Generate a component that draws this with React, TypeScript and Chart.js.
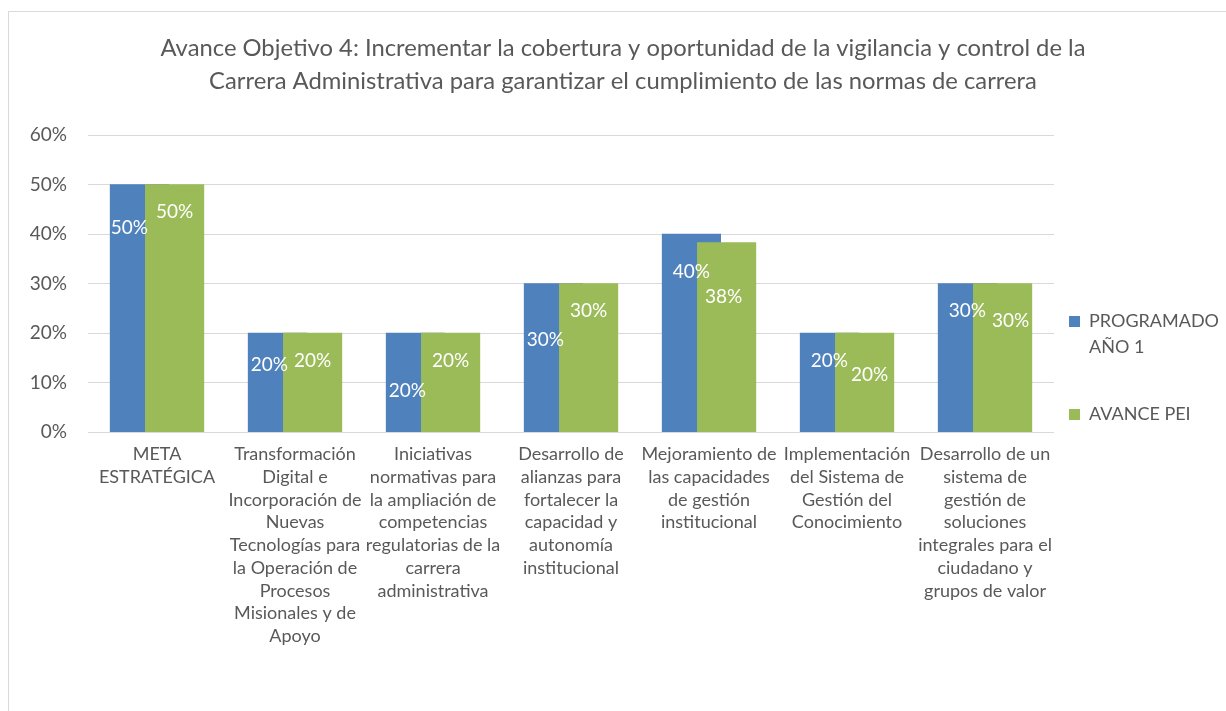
import React, { useEffect, useRef } from 'react';
import { Chart, registerables } from 'chart.js';

Chart.register(...registerables);

const titleLines = [
  'Avance Objetivo 4: Incrementar la cobertura y oportunidad de la vigilancia y control de la',
  'Carrera Administrativa para garantizar el cumplimiento de las normas de carrera',
];

const categories: string[][] = [
  ['META', 'ESTRATÉGICA'],
  ['Transformación', 'Digital e', 'Incorporación de', 'Nuevas', 'Tecnologías para', 'la Operación de', 'Procesos', 'Misionales y de', 'Apoyo'],
  ['Iniciativas', 'normativas para', 'la ampliación de', 'competencias', 'regulatorias de la', 'carrera', 'administrativa'],
  ['Desarrollo de', 'alianzas para', 'fortalecer la', 'capacidad y', 'autonomía', 'institucional'],
  ['Mejoramiento de', 'las capacidades', 'de gestión', 'institucional'],
  ['Implementación', 'del Sistema de', 'Gestión del', 'Conocimiento'],
  ['Desarrollo de un', 'sistema de', 'gestión de', 'soluciones', 'integrales para el', 'ciudadano y', 'grupos de valor'],
];

const seriesNames = ['PROGRAMADO AÑO 1', 'AVANCE PEI'];
const legendLines = [['PROGRAMADO', 'AÑO 1', ''], ['AVANCE PEI']];

const programado = [50, 20, 20, 30, 40, 20, 30];
const avance = [50, 20, 20, 30, 38.3, 20, 30];

const yTicks = [0, 10, 20, 30, 40, 50, 60];

// where each data label sits in the original (value units) – layout only
const programadoLabelAt = [41.3, 13.6, 8.3, 18.6, 32.4, 14.4, 24.5];
const avanceLabelAt = [44.5, 14.5, 14.5, 24.5, 27.4, 11.5, 22.5];
const programadoLabelShift = [-10, -8, -8, -8, 0, 0, 0];
const avanceLabelShift = [0, 0, 0, 0, -3, 5, 8];

const FONT = 'Lato, "Open Sans", "Noto Sans", sans-serif';
const GRAY = '#595959';
const BLUE = '#4F81BD';
const GREEN = '#9BBB59';
const BAR_OFFSET = 0.1275;

const seriesValues = [programado, avance];
const labelAt = [programadoLabelAt, avanceLabelAt];
const labelShift = [programadoLabelShift, avanceLabelShift];

const dataLabelsPlugin = {
  id: 'dataLabels',
  afterDatasetsDraw(chart: any) {
    const ctx = chart.ctx;
    const yScale = chart.scales.y;
    ctx.save();
    ctx.fillStyle = '#FFFFFF';
    ctx.font = `19px ${FONT}`;
    ctx.textAlign = 'center';
    ctx.textBaseline = 'middle';
    seriesValues.forEach((vals, di) => {
      const meta = chart.getDatasetMeta(di);
      meta.data.forEach((bar: any, i: number) => {
        ctx.fillText(
          `${Math.round(vals[i])}%`,
          bar.x + labelShift[di][i],
          yScale.getPixelForValue(labelAt[di][i])
        );
      });
    });
    ctx.restore();
  },
};

export default function App() {
  const ref = useRef<HTMLCanvasElement>(null);

  useEffect(() => {
    if (!ref.current) return;
    Chart.defaults.font.family = FONT;
    Chart.defaults.color = GRAY;
    const chart = new Chart(ref.current, {
      type: 'bar',
      data: {
        datasets: [
          {
            label: seriesNames[0],
            data: programado.map((v, i) => ({ x: i - BAR_OFFSET, y: v })),
            backgroundColor: BLUE,
            order: 1,
          },
          {
            label: seriesNames[1],
            data: avance.map((v, i) => ({ x: i + BAR_OFFSET, y: v })),
            backgroundColor: GREEN,
            order: 0,
          },
        ],
      },
      options: {
        responsive: false,
        animation: false,
        layout: { padding: { top: 0, right: 6, bottom: 61.5, left: 8 } },
        datasets: {
          bar: { grouped: false, barThickness: 58.5 },
        },
        scales: {
          x: {
            type: 'linear',
            min: -0.5,
            max: 6.5,
            offset: false,
            grid: { display: false },
            border: { display: false },
            afterBuildTicks: (scale: any) => {
              scale.ticks = categories.map((_, i) => ({ value: i }));
            },
            ticks: {
              autoSkip: false,
              maxRotation: 0,
              minRotation: 0,
              padding: 3,
              color: GRAY,
              font: { size: 18, lineHeight: '22.7px' as any },
              callback: (v: any) => categories[v] ?? '',
            },
          },
          y: {
            min: 0,
            max: 60,
            afterFit: (scale: any) => {
              scale.width = 71;
            },
            afterBuildTicks: (scale: any) => {
              scale.ticks = yTicks.map((v) => ({ value: v }));
            },
            grid: { color: '#D9D9D9', drawTicks: false, lineWidth: 1 },
            border: { display: false },
            ticks: {
              padding: 21,
              color: GRAY,
              font: { size: 19 },
              callback: (v: any) => `${v}%`,
            },
          },
        },
        plugins: {
          title: {
            display: true,
            text: titleLines,
            color: GRAY,
            font: { size: 23.8, weight: 'normal', lineHeight: '33px' as any },
            padding: { top: 19.5, bottom: 37.5 },
          },
          legend: {
            position: 'right',
            align: 'center',
            title: {
              display: true,
              text: ' ',
              font: { size: 1, lineHeight: '1px' as any },
              padding: { top: 80.5, bottom: 0 },
            },
            labels: {
              boxWidth: 11,
              boxHeight: 11,
              padding: 15,
              color: GRAY,
              font: { size: 18, lineHeight: '26px' as any },
              sort: (a: any, b: any) => a.datasetIndex - b.datasetIndex,
              generateLabels: (chart: any) => {
                const items = Chart.defaults.plugins.legend.labels.generateLabels(chart);
                return items.map((it: any) => ({
                  ...it,
                  text: legendLines[it.datasetIndex],
                  lineWidth: 0,
                  strokeStyle: 'transparent',
                }));
              },
            },
          },
          tooltip: { enabled: false },
        },
      },
      plugins: [dataLabelsPlugin],
    } as any);
    return () => chart.destroy();
  }, []);

  return (
    <div
      style={{
        position: 'fixed',
        left: 0,
        top: 0,
        width: 1226,
        height: 711,
        overflow: 'hidden',
        background: '#FFFFFF',
      }}
    >
      <div
        style={{
          position: 'absolute',
          left: 8,
          top: 11,
          width: 1260,
          height: 730,
          border: '1px solid #D9D9D9',
          boxSizing: 'border-box',
        }}
      >
        <canvas ref={ref} width={1226} height={700} style={{ display: 'block' }} />
      </div>
    </div>
  );
}
